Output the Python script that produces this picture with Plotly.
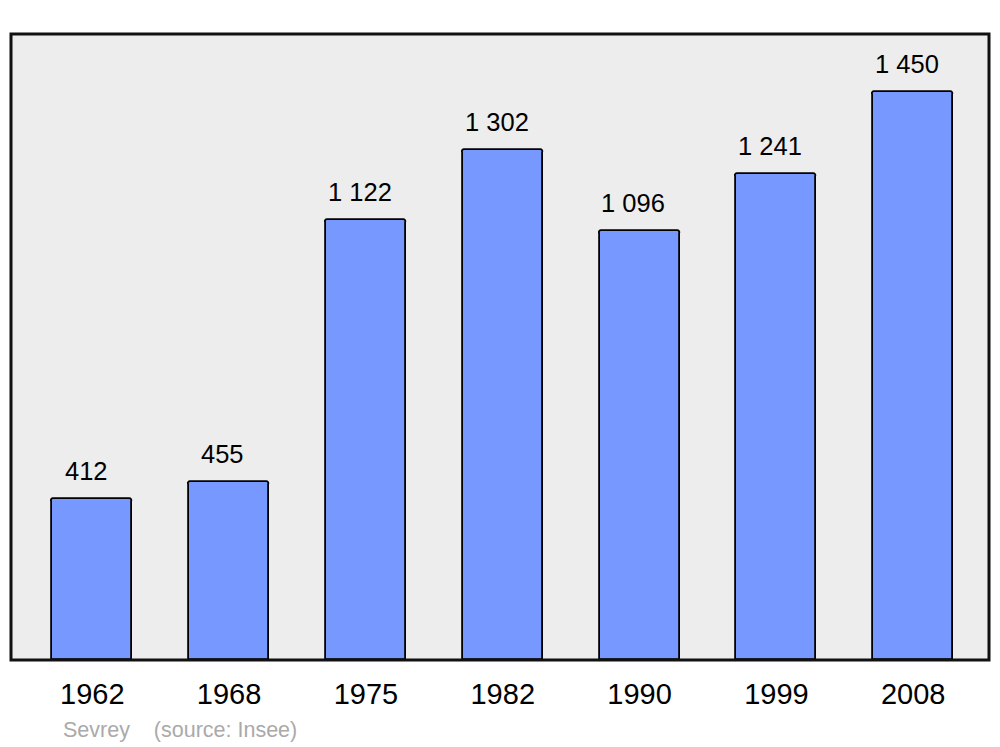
import plotly.graph_objects as go

years = ["1962", "1968", "1975", "1982", "1990", "1999", "2008"]
population = [412, 455, 1122, 1302, 1096, 1241, 1450]
value_labels = ["412", "455", "1 122", "1 302", "1 096", "1 241", "1 450"]

fig = go.Figure()
fig.add_trace(go.Bar(
    x=list(range(len(years))), y=population, width=0.585,
    marker=dict(color="#7799ff", line=dict(color="#000000", width=1.8), cornerradius=3),
    hoverinfo="skip", showlegend=False,
))

for i, (v, lab) in enumerate(zip(population, value_labels)):
    fig.add_annotation(x=i - 0.045, y=v, text=lab, showarrow=False, yanchor="bottom",
                       yshift=12, font=dict(size=25.5, color="#000000", family="Liberation Sans, Arial"))

fig.add_shape(type="rect", xref="paper", yref="paper", x0=0, y0=0, x1=1, y1=1,
              line=dict(color="#111111", width=3), layer="above")

fig.add_annotation(xref="paper", yref="paper", x=(61 - 11) / 978, y=-(730 - 660) / 626,
                   text="Sevrey &nbsp;&nbsp; (source: Insee)", showarrow=False,
                   xanchor="left", yanchor="middle",
                   font=dict(size=21.5, color="#aaaaaa", family="Liberation Sans, Arial"))

fig.update_layout(
    width=984, height=739,
    margin=dict(l=3, r=3, t=26, b=87),
    paper_bgcolor="#ffffff", plot_bgcolor="#ededed",
    font=dict(family="Liberation Sans, Arial", color="#000000"),
    bargap=0,
)
fig.update_xaxes(range=[-0.594, 6.554], tickmode="array", tickvals=list(range(len(years))),
                 ticktext=years, tickfont=dict(size=29, color="#000000"), showgrid=False,
                 zeroline=False, ticks="", ticklabelstandoff=14)
fig.update_yaxes(range=[0, 1598], showticklabels=False, showgrid=False, zeroline=False)

fig.write_html("out.html")
